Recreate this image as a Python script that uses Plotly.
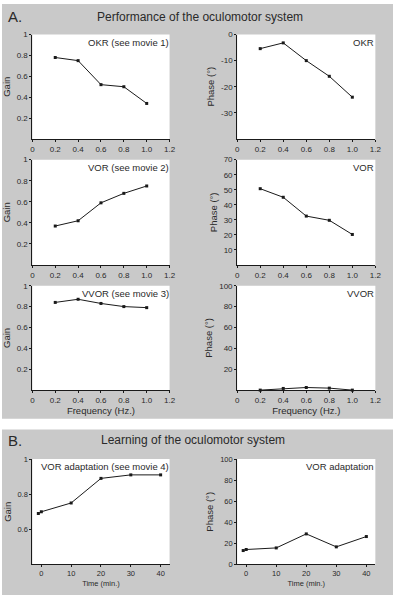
import plotly.graph_objects as go

W, H = 399, 600

# ---------------- data ----------------
freq = [0.2, 0.4, 0.6, 0.8, 1.0]
okr_gain = [0.78, 0.75, 0.52, 0.50, 0.34]
okr_phase = [-5.4, -3.2, -10.0, -16.0, -24.0]
vor_gain = [0.37, 0.42, 0.59, 0.68, 0.75]
vor_phase = [50.7, 45.0, 32.5, 29.7, 20.3]
vvor_gain = [0.84, 0.87, 0.83, 0.80, 0.79]
vvor_phase = [0.0, 1.6, 2.5, 1.9, 0.0]
time_min = [-1, 0, 10, 20, 30, 40]
adapt_gain = [0.69, 0.70, 0.75, 0.89, 0.91, 0.91]
adapt_phase = [13.2, 14.2, 15.7, 29.0, 16.7, 26.5]

freq_ticks = [0, 0.2, 0.4, 0.6, 0.8, 1.0, 1.2]
freq_ticktext = ["0", "0.2", "0.4", "0.6", "0.8", "1.0", "1.2"]
time_ticks = [0, 10, 20, 30, 40]

FONT = "Liberation Sans, Arial, sans-serif"
GRAY = "#c9c9c9"
LINE = "#1a1a1a"
TXT = "#2a2a2a"


def xd(a, b):
    return [a / W, b / W]


def yd(top, bottom):
    return [1 - bottom / H, 1 - top / H]


COLS = {"L": (31, 171), "R": (240, 381)}
ROWS = {1: (31, 137), 2: (158, 265), 3: (286, 392), 4: (462, 569)}

panels = [
    ("L", 1, freq, okr_gain, "OKR (see movie 1)", [0, 1], [0.2, 0.4, 0.6, 0.8, 1], ["0.2", "0.4", "0.6", "0.8", "1"], "Gain", "f", ""),
    ("R", 1, freq, okr_phase, "OKR", [-40, 0], [-30, -20, -10, 0], ["-30", "-20", "-10", "0"], "Phase (°)", "f", ""),
    ("L", 2, freq, vor_gain, "VOR (see movie 2)", [0, 1], [0.2, 0.4, 0.6, 0.8, 1], ["0.2", "0.4", "0.6", "0.8", "1"], "Gain", "f", ""),
    ("R", 2, freq, vor_phase, "VOR", [0, 70], [10, 20, 30, 40, 50, 60, 70], ["10", "20", "30", "40", "50", "60", "70"], "Phase (°)", "f", ""),
    ("L", 3, freq, vvor_gain, "VVOR (see movie 3)", [0, 1], [0.2, 0.4, 0.6, 0.8, 1], ["0.2", "0.4", "0.6", "0.8", "1"], "Gain", "f", "Frequency (Hz.)"),
    ("R", 3, freq, vvor_phase, "VVOR", [0, 100], [20, 40, 60, 80, 100], ["20", "40", "60", "80", "100"], "Phase (°)", "f", "Frequency (Hz.)"),
    ("L", 4, time_min, adapt_gain, "VOR adaptation (see movie 4)", [0.4, 1], [0.6, 0.8, 1], ["0.6", "0.8", "1"], "Gain", "t", "Time (min.)"),
    ("R", 4, time_min, adapt_phase, "VOR adaptation", [0, 100], [0, 20, 40, 60, 80, 100], ["0", "20", "40", "60", "80", "100"], "Phase (°)", "t", "Time (min.)"),
]

fig = go.Figure()
layout = dict(
    width=W, height=H,
    margin=dict(l=0, r=0, t=0, b=0),
    paper_bgcolor="white",
    plot_bgcolor="white",
    showlegend=False,
    font=dict(family=FONT, size=8, color=TXT),
)
annotations = []
shapes = [
    dict(type="rect", xref="paper", yref="paper", x0=0, x1=1, y0=1 - 421 / H, y1=1,
         fillcolor=GRAY, line=dict(width=0), layer="below"),
    dict(type="rect", xref="paper", yref="paper", x0=0, x1=1, y0=0, y1=1 - 432 / H,
         fillcolor=GRAY, line=dict(width=0), layer="below"),
]

for i, (col, row, xs, ys, label, yr, yt, ytt, ytitle, xk, xtitle) in enumerate(panels, start=1):
    xa = "xaxis" if i == 1 else f"xaxis{i}"
    ya = "yaxis" if i == 1 else f"yaxis{i}"
    xr = "x" if i == 1 else f"x{i}"
    yrf = "y" if i == 1 else f"y{i}"
    x0, x1 = COLS[col]
    t0, b0 = ROWS[row]
    tick_fs = 8 if xk == "f" else 7.5
    common = dict(
        showline=True, linecolor=LINE, linewidth=1, mirror=False,
        showgrid=False, zeroline=False, ticks="outside", ticklen=2,
        tickwidth=1, tickcolor=LINE, tickfont=dict(size=tick_fs, family=FONT, color=TXT),
    )
    if xk == "f":
        xax = dict(range=[0, 1.2], tickmode="array", tickvals=freq_ticks, ticktext=freq_ticktext)
    else:
        xax = dict(range=[-3, 43], tickmode="array", tickvals=time_ticks,
                   ticktext=[str(t) for t in time_ticks])
    xax.update(common)
    xax.update(domain=xd(x0, x1), anchor=yrf)
    if xtitle:
        xax["title"] = dict(text=xtitle, font=dict(size=9.5 if xk == "f" else 7.5, family=FONT, color=TXT),
                            standoff=3)
    yax = dict(range=yr, tickmode="array", tickvals=yt, ticktext=ytt)
    yax.update(common)
    yax.update(domain=yd(t0, b0), anchor=xr)
    yax["title"] = dict(text=ytitle, font=dict(size=9.5, family=FONT, color=TXT), standoff=4)
    layout[xa] = xax
    layout[ya] = yax

    # white plotting area
    shapes.append(dict(type="rect", xref="paper", yref="paper",
                       x0=x0 / W, x1=x1 / W, y0=1 - b0 / H, y1=1 - t0 / H,
                       fillcolor="white", line=dict(width=0), layer="below"))

    fig.add_trace(go.Scatter(
        x=xs, y=ys, xaxis=xr, yaxis=yrf, mode="lines+markers",
        line=dict(color=LINE, width=1),
        marker=dict(symbol="square", size=3, color=LINE),
        cliponaxis=False, hoverinfo="skip",
    ))
    annotations.append(dict(
        text=label, xref="paper", yref="paper",
        x=(x1 + 1) / W, y=1 - (t0 + 0) / H, xanchor="right", yanchor="top",
        showarrow=False, font=dict(size=9.5, family=FONT, color=TXT),
    ))

# Panel headings
for txt, xx, yy, fs, anchor in [
    ("A.", 4, 13, 15, "left"),
    ("Performance of the oculomotor system", 202, 13, 12, "center"),
    ("B.", 4, 443, 15, "left"),
    ("Learning of the oculomotor system", 195, 443, 12, "center"),
]:
    annotations.append(dict(
        text=txt, xref="paper", yref="paper", x=xx / W, y=1 - yy / H,
        xanchor=anchor, yanchor="middle", showarrow=False,
        font=dict(size=fs, family=FONT, color=TXT),
    ))

layout["annotations"] = annotations
layout["shapes"] = shapes

fig.update_layout(**layout)
fig.write_html(
    "out.html",
    config={"displayModeBar": False, "staticPlot": True},
    post_script="document.body.style.margin='0';document.body.style.overflow='hidden';",
)
